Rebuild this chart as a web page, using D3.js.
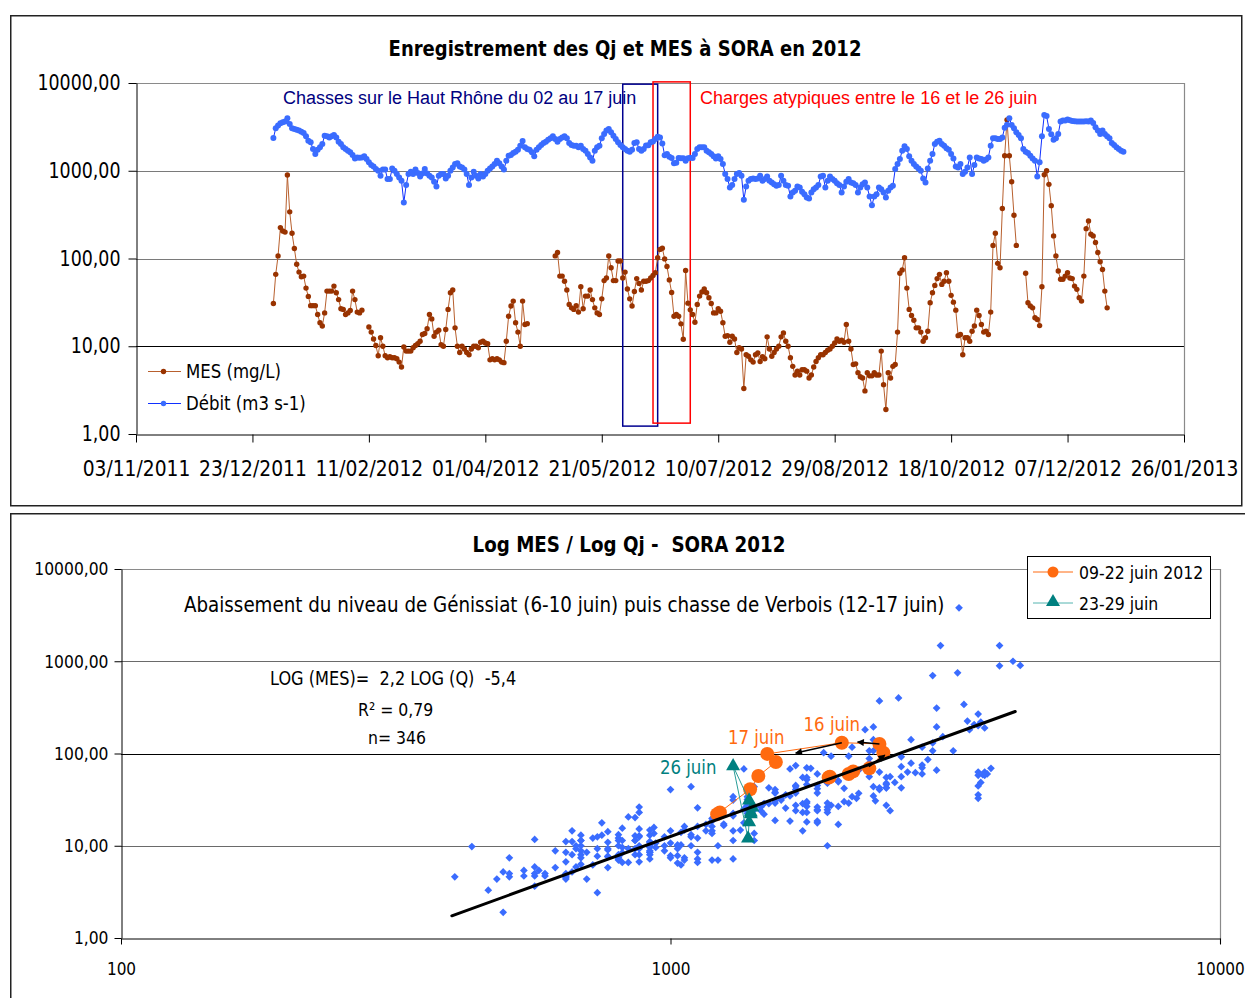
<!DOCTYPE html>
<html>
<head>
<meta charset="utf-8">
<script src="https://cdn.jsdelivr.net/npm/d3@7"></script>
<style>
  body { margin: 0; background: #fff; }
  svg { display: block; background: #fff; }
</style>
</head>
<body>
<svg id="chart" width="1245" height="998"></svg>
<script>
// ---------------------------------------------------------------------------
// Daily records at SORA, 1 Jan 2012 -> 31 Dec 2012 (one value per day)
// Débit journalier Qj (m3/s)
const debit = [
  2360,3050,3270,3470,3570,3630,3970,3420,3050,3000,
  2940,2870,2790,2700,2470,2200,2110,1770,1550,1740,
  1850,2020,2510,2470,2400,2470,2560,2400,2140,2020,
  1850,1770,1690,1620,1510,1380,1420,1410,1420,1460,
  1360,1250,1160,1120,1045,1000,877,1030,1030,804,
  804,1060,1000,917,838,769,435,687,917,975,
  917,1030,940,862,933,1045,933,877,838,750,
  662,877,917,917,817,877,1000,1090,1190,1220,
  1120,1090,1030,917,687,838,975,877,817,917,
  862,917,1000,1060,1120,1190,1300,1220,1120,1030,
  1300,1480,1510,1590,1650,1740,1930,2180,1850,1770,
  1740,1620,1460,1740,1850,1960,2070,2140,2260,2340,
  2470,2300,2140,2300,2400,2470,2340,2070,1960,1930,
  1930,1850,1930,1770,1690,1550,1420,1300,1690,1850,
  1930,2340,2630,2870,3000,2740,2510,2300,2110,1960,
  1850,1770,1690,1650,1740,2070,2110,1770,1690,1770,
  1940,1950,2110,2150,2300,2440,2400,2050,1500,1555,
  1445,1396,1216,1230,1400,1390,1384,1300,1390,1410,
  1400,1550,1770,1850,1850,1850,1690,1620,1550,1460,
  1380,1460,1360,1190,917,804,645,687,804,917,
  940,877,466,662,769,804,817,804,817,877,
  769,804,862,769,736,704,673,687,877,769,
  687,673,509,566,591,662,645,576,541,496,
  483,566,617,645,687,862,877,645,769,862,
  804,769,722,687,566,662,750,804,736,722,
  687,566,645,704,736,645,509,405,509,541,
  645,617,566,496,591,645,673,1045,1190,1360,
  1690,1900,1770,1460,1300,1190,1120,1060,1000,817,
  736,1060,1300,1550,2020,2140,2200,2020,1930,1800,
  1740,1550,1380,1120,1090,1190,917,975,1090,1420,
  917,1160,1420,1380,1360,1300,1340,1420,1930,2340,
  2340,2300,2300,2400,3100,3350,3970,3330,3050,2740,
  2560,2340,1770,1650,1590,1480,1380,1300,862,1250,
  2470,4330,4200,3000,2600,2260,2340,2630,3630,3730,
  3730,3830,3770,3700,3670,3630,3630,3630,3630,3670,
  3630,3730,3500,3130,2870,2630,2870,2630,2470,2340,
  2070,1960,1850,1770,1690,1650
];

// Matières en suspension MES (mg/L), null = no measurement
const mes = [
  30.7,66,107,225,206,200,893,340,194,130,
  86,70,62,63,46,37,29,29,29,23,
  18.5,17,24,42.5,42.5,42.5,48.5,40.7,34,26.7,
  26.3,23,24,25.6,42.5,34,24.5,24,25.8,null,
  null,16.6,14.5,12.1,10.2,7.8,12.5,10,7.8,7.4,
  7.6,7.4,7.4,7.2,6.6,5.8,9.8,8.8,8.8,8.8,
  9.6,10.2,10.7,11.4,13.6,14,15.8,23,20.5,13,
  14.5,15.2,10.4,10,15.5,26.3,40.7,43.7,16.2,10,
  8.5,10,9.3,8.5,8,9.3,10,10,9.6,11.1,
  11.4,10.9,10.7,7,7.2,7,7.2,7,6.6,6.5,
  11.4,22,28.7,32.7,18.5,14.5,10,32.7,17.7,18.1,
  null,null,null,null,null,null,null,null,null,null,
  null,107,117,63,63,55,43.7,30,27.4,26.3,
  29,24.5,47.7,26.7,37.3,37.3,43.7,34,27.4,24,
  23,34.7,56,60,107,78.6,56,56,93.6,93.6,
  60,70,45,34.7,28.7,42,59,52,43.7,55,
  55,56,60,64,69,102,127,131,99,81,
  57,41,22,23,22,18,12,73,31,26,
  23,18.8,30,37.3,41.5,45,40.7,35.7,30.7,24,
  24,26.7,25.1,18.5,13,13.2,11.1,13,12.1,8.5,
  9.6,9.3,3.3,8,7.7,7,6.6,8,8.4,6.7,
  7.6,7.2,12.8,9.3,7.7,8.5,9.3,10,12.8,14.2,
  11.4,10,7.4,5.9,4.7,5.2,4.7,5.4,5.4,5.2,
  4.35,4.7,5.8,6.7,7.4,8,8,8.5,9,9.3,
  10,10.9,12.1,11.4,11.7,11.1,17.7,11.4,9.3,6.2,
  6.3,5,4.5,4.35,3.1,5,4.6,4.6,5,4.7,
  4.7,8.8,3.65,1.9,5,4.35,5.9,6.2,14.5,68,
  74,102,46,26.3,22.4,19.8,16.2,16.2,14.5,11.4,
  12.5,14.8,31.3,40.7,49.4,59,66,50.7,55,69,
  55,38,31.8,25.8,13.2,13.6,8,12.5,12.5,11.4,
  14.8,17,25.8,22.4,17.7,14.5,14.8,13.6,24.5,141,
  194,88,78.6,371,1480,3800,1480,750,311,141,
  null,null,null,68,31.3,28.7,27.4,21.1,20.2,17.2,
  47.7,900,1000,700,400,181,107,72,58,58,
  63,69,60,59,48.5,44.5,35.7,32.7,63,219,
  268,189,181,152,117,92,75,42.5,27.4,null,
  null,null,null,null,null,null
];

// Axis ticks
const dateTicks = ["03/11/2011","23/12/2011","11/02/2012","01/04/2012","21/05/2012",
                   "10/07/2012","29/08/2012","18/10/2012","07/12/2012","26/01/2013"];
const logTicks = [1, 10, 100, 1000, 10000];
const debitTicks = [100, 1000, 10000];

// Annotated periods
const chassesPeriod = ["30/05/2012", "14/06/2012"];
const chargesPeriod = ["12/06/2012", "28/06/2012"];
const periodJuin1 = ["09/06/2012", "22/06/2012"];
const periodJuin2 = ["23/06/2012", "29/06/2012"];

// Power-law fit LOG(MES) = a LOG(Q) + b
const fitSlope = 2.16;
const fitIntercept = -5.38;
const fitQRange = [400, 4240];
// ---------------------------------------------------------------------------

const SX = 0.85;                       // horizontal text compression
const FONT = '"DejaVu Sans", Verdana, sans-serif';
const ARIAL = '"Liberation Sans", Arial, sans-serif';
const parseFr = d3.utcParse("%d/%m/%Y");
const fmtFr = d3.utcFormat("%d/%m/%Y");
const fmtComma = v => d3.format(".2f")(v).replace(".", ",");

const days = d3.utcDay.range(new Date(Date.UTC(2012, 0, 1)), new Date(Date.UTC(2013, 0, 1)));
const rows = days.map((t, i) => ({ date: t, q: debit[i], mes: mes[i] }));

const svg = d3.select("#chart");

function label(parent, x, y, str, o = {}) {
  const sx = o.sx ?? SX;
  return parent.append("text")
    .attr("transform", `translate(${x},${y}) scale(${sx},1)`)
    .attr("text-anchor", o.anchor || "start")
    .style("font-family", o.family || FONT)
    .style("font-size", (o.size || 18) + "px")
    .style("font-weight", o.weight || "normal")
    .style("white-space", "pre")
    .attr("fill", o.fill || "#000")
    .text(str);
}

function styleAxis(g, size) {
  g.attr("font-family", null).attr("font-size", null);
  g.select(".domain").attr("stroke", "#000").attr("stroke-width", 1);
  g.selectAll(".tick line").attr("stroke", "#000");
  g.selectAll(".tick text")
    .style("font-family", FONT).style("font-size", size + "px").attr("fill", "#000")
    .each(function () {
      const t = d3.select(this);
      const x = +t.attr("x") || 0;
      t.attr("x", x / SX).attr("transform", `scale(${SX},1)`);
    });
}

// Outer frames
svg.append("rect").attr("x", 10.75).attr("y", 15.75).attr("width", 1231).attr("height", 490)
  .attr("fill", "none").attr("stroke", "#222").attr("stroke-width", 1.5);
svg.append("rect").attr("x", 10.75).attr("y", 513.75).attr("width", 1260).attr("height", 520)
  .attr("fill", "none").attr("stroke", "#222").attr("stroke-width", 1.5);

// ======================= Time series chart =================================
const gTop = svg.append("g");
const xTop = d3.scaleUtc()
  .domain([parseFr(dateTicks[0]), parseFr(dateTicks[dateTicks.length - 1])])
  .range([136, 1184]);
const yTop = d3.scaleLog().domain([1, 10000]).range([434, 83]);

label(gTop, 625, 56, "Enregistrement des Qj et MES à SORA en 2012", { anchor: "middle", size: 21.2, weight: "bold" });

// grid + plot border
[10, 100, 1000].forEach(v => {
  gTop.append("line").attr("x1", 136).attr("x2", 1184)
    .attr("y1", Math.round(yTop(v)) + 0.5).attr("y2", Math.round(yTop(v)) + 0.5)
    .attr("stroke", v === 10 ? "#000" : "#7a7a7a").attr("stroke-width", 1);
});
gTop.append("path")
  .attr("d", `M136,${yTop(10000) + 0.5}H${1184 + 0.5}V434`)
  .attr("fill", "none").attr("stroke", "#8a8a8a").attr("stroke-width", 1.2);

// axes
const gyTop = gTop.append("g").attr("transform", "translate(136.5,0)")
  .call(d3.axisLeft(yTop).tickValues(logTicks).tickFormat(fmtComma).tickSize(8).tickPadding(8).tickSizeOuter(0));
styleAxis(gyTop, 20.5);

const gxTop = gTop.append("g").attr("transform", "translate(0,434.5)")
  .call(d3.axisBottom(xTop).tickValues(dateTicks.map(parseFr)).tickFormat(fmtFr).tickSize(8).tickSizeOuter(0));
styleAxis(gxTop, 22);
gxTop.selectAll(".tick text").attr("y", 42).attr("dy", 0);

// period boxes
function periodBox(period, lo, hi, color) {
  const x0 = xTop(parseFr(period[0])), x1 = xTop(parseFr(period[1]));
  gTop.append("rect").attr("x", x0).attr("y", yTop(hi))
    .attr("width", x1 - x0).attr("height", yTop(lo) - yTop(hi))
    .attr("fill", "none").attr("stroke", color).attr("stroke-width", 1.5);
}
periodBox(chassesPeriod, 1.23, 9700, "#000090");
periodBox(chargesPeriod, 1.33, 10300, "#ff0000");

label(gTop, 283, 104, "Chasses sur le Haut Rhône du 02 au 17 juin", { family: ARIAL, size: 18, sx: 1, fill: "#000080" });
label(gTop, 700, 104, "Charges atypiques entre le 16 et le 26 juin", { family: ARIAL, size: 18, sx: 1, fill: "#ff0000" });

// series
const mesLineColor = "#b8602e", mesDotColor = "#993300";
const qLineColor = "#1030ff", qDotColor = "#3a6cff";

gTop.append("path").datum(rows)
  .attr("d", d3.line().defined(d => d.mes != null).x(d => xTop(d.date)).y(d => yTop(d.mes)))
  .attr("fill", "none").attr("stroke", mesLineColor).attr("stroke-width", 1);
gTop.append("g").selectAll("circle").data(rows.filter(d => d.mes != null)).join("circle")
  .attr("cx", d => xTop(d.date)).attr("cy", d => yTop(d.mes)).attr("r", 2.7).attr("fill", mesDotColor);

gTop.append("path").datum(rows)
  .attr("d", d3.line().x(d => xTop(d.date)).y(d => yTop(d.q)))
  .attr("fill", "none").attr("stroke", qLineColor).attr("stroke-width", 1);
gTop.append("g").selectAll("circle").data(rows).join("circle")
  .attr("cx", d => xTop(d.date)).attr("cy", d => yTop(d.q)).attr("r", 3).attr("fill", qDotColor);

// legend
[[371.5, "MES (mg/L)", mesLineColor, mesDotColor], [403.5, "Débit (m3 s-1)", qLineColor, qDotColor]]
  .forEach(([y, txt, lc, dc]) => {
    gTop.append("line").attr("x1", 148).attr("x2", 181).attr("y1", y).attr("y2", y).attr("stroke", lc).attr("stroke-width", 1);
    gTop.append("circle").attr("cx", 163.5).attr("cy", y).attr("r", 2.7).attr("fill", dc);
    label(gTop, 186, y + 6.5, txt, { size: 19.5 });
  });

// ======================= Scatter MES vs Qj ==================================
const gBot = svg.append("g");
const xBot = d3.scaleLog().domain([100, 10000]).range([121, 1220]);
const yBot = d3.scaleLog().domain([1, 10000]).range([938, 569]);

label(gBot, 629, 552, "Log MES / Log Qj -  SORA 2012", { anchor: "middle", size: 21.5, weight: "bold" });

[10, 100, 1000].forEach(v => {
  gBot.append("line").attr("x1", 121).attr("x2", 1220)
    .attr("y1", Math.round(yBot(v)) + 0.5).attr("y2", Math.round(yBot(v)) + 0.5)
    .attr("stroke", v === 100 ? "#000" : "#6a6a6a").attr("stroke-width", 1);
});
gBot.append("path")
  .attr("d", `M121,${yBot(10000) + 0.5}H${1220.5}V944`)
  .attr("fill", "none").attr("stroke", "#8a8a8a").attr("stroke-width", 1.2);

const gyBot = gBot.append("g").attr("transform", "translate(121.5,0)")
  .call(d3.axisLeft(yBot).tickValues(logTicks).tickFormat(fmtComma).tickSize(7).tickPadding(6).tickSizeOuter(0));
styleAxis(gyBot, 18.3);

const gxBot = gBot.append("g").attr("transform", "translate(0,938.5)")
  .call(d3.axisBottom(xBot).tickValues(debitTicks).tickFormat(d3.format("d")).tickSize(6).tickSizeOuter(0));
styleAxis(gxBot, 18);
gxBot.selectAll(".tick text").attr("y", 37).attr("dy", 0);

// all paired daily values
const pairs = rows.filter(d => d.mes != null && d.q != null);
const diamond = d3.symbol(d3.symbolSquare, 30);
gBot.append("g").selectAll("path").data(pairs).join("path")
  .attr("d", diamond)
  .attr("transform", d => `translate(${xBot(d.q)},${yBot(d.mes)}) rotate(45)`)
  .attr("fill", "#3a6cff");

// highlighted June periods
function inPeriod(p) {
  const a = parseFr(p[0]), b = parseFr(p[1]);
  return rows.filter(d => d.date >= a && d.date <= b && d.mes != null);
}
const juin1 = inPeriod(periodJuin1);
const juin2 = inPeriod(periodJuin2);
const orange = "#ff6a10", teal = "#008080", tealLine = "#2a9d98";
const pathQ = d3.line().x(d => xBot(d.q)).y(d => yBot(d.mes));

gBot.append("path").datum(juin1).attr("d", pathQ).attr("fill", "none").attr("stroke", orange).attr("stroke-width", 1);
gBot.append("g").selectAll("circle").data(juin1).join("circle")
  .attr("cx", d => xBot(d.q)).attr("cy", d => yBot(d.mes)).attr("r", 7).attr("fill", orange);

const tri = d3.symbol(d3.symbolTriangle, 85);
gBot.append("path").datum(juin2).attr("d", pathQ).attr("fill", "none").attr("stroke", tealLine).attr("stroke-width", 1);
gBot.append("g").selectAll("path").data(juin2).join("path")
  .attr("d", tri).attr("transform", d => `translate(${xBot(d.q)},${yBot(d.mes)})`).attr("fill", teal);

// fitted power law
const fitPts = fitQRange.map(q => [q, Math.pow(10, fitSlope * Math.log10(q) + fitIntercept)]);
gBot.append("line")
  .attr("x1", xBot(fitPts[0][0])).attr("y1", yBot(fitPts[0][1]))
  .attr("x2", xBot(fitPts[1][0])).attr("y2", yBot(fitPts[1][1]))
  .attr("stroke", "#000").attr("stroke-width", 3).attr("stroke-linecap", "round");

// direction arrows along the 09-22 June loop
svg.append("defs").append("marker")
  .attr("id", "arrowhead").attr("viewBox", "0 0 10 10").attr("refX", 9).attr("refY", 5)
  .attr("markerWidth", 9).attr("markerHeight", 7).attr("markerUnits", "userSpaceOnUse")
  .attr("orient", "auto")
  .append("path").attr("d", "M0,0 L10,5 L0,10 z").attr("fill", "#000");
const arrows = [
  [[2400, 127], [2190, 133]],
  [[2050, 131], [1690, 101]],
  [[2297, 72], [2455, 96]]
];
arrows.forEach(([a, b]) => {
  gBot.append("line")
    .attr("x1", xBot(a[0])).attr("y1", yBot(a[1]))
    .attr("x2", xBot(b[0])).attr("y2", yBot(b[1]))
    .attr("stroke", "#000").attr("stroke-width", 1.5).attr("marker-end", "url(#arrowhead)");
});

label(gBot, xBot(1966), yBot(175), "16 juin", { anchor: "middle", size: 19.5, fill: orange });
label(gBot, xBot(1432), yBot(127), "17 juin", { anchor: "middle", size: 19.5, fill: orange });
label(gBot, xBot(1077), yBot(60), "26 juin", { anchor: "middle", size: 19.5, fill: teal });

// text annotations
label(gBot, 184, 612, "Abaissement du niveau de Génissiat (6-10 juin) puis chasse de Verbois (12-17 juin)", { size: 21.5 });
const fmt1 = v => d3.format(".1f")(v).replace(".", ",").replace("\u2212", "-");
label(gBot, 270, 685, `LOG (MES)=  ${fmt1(fitSlope)} LOG (Q)  ${fmt1(fitIntercept)}`, { size: 19 });
label(gBot, 358, 716, "R² = 0,79", { size: 18.5 });
label(gBot, 368, 744, "n= 346", { size: 18.5 });

// legend
const lg = gBot.append("g");
lg.append("rect").attr("x", 1027.5).attr("y", 556.5).attr("width", 183).attr("height", 62)
  .attr("fill", "#fff").attr("stroke", "#000").attr("stroke-width", 1);
lg.append("line").attr("x1", 1033).attr("x2", 1073).attr("y1", 572).attr("y2", 572).attr("stroke", orange);
lg.append("circle").attr("cx", 1053).attr("cy", 572).attr("r", 5.5).attr("fill", orange);
label(lg, 1079, 578.5, "09-22 juin 2012", { size: 18.5 });
lg.append("line").attr("x1", 1033).attr("x2", 1073).attr("y1", 603).attr("y2", 603).attr("stroke", "#55b4b0");
lg.append("path").attr("d", tri).attr("transform", "translate(1053,602)").attr("fill", teal);
label(lg, 1079, 609.5, "23-29 juin", { size: 18.5 });
</script>
</body>
</html>
